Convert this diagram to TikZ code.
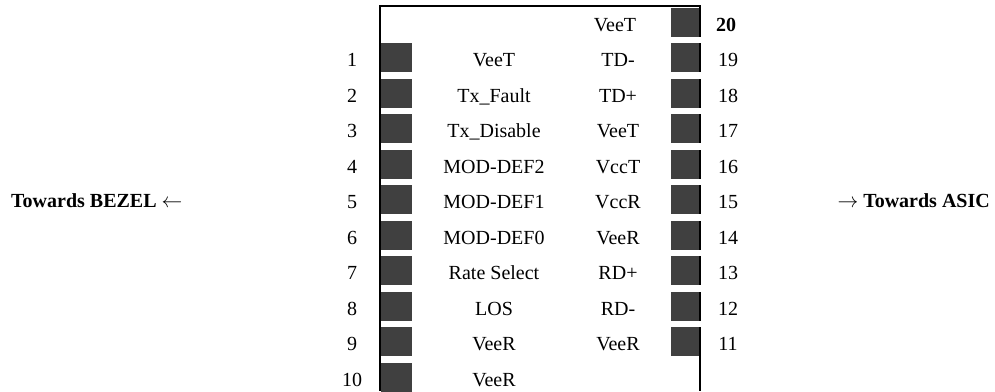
\documentclass[tikz,border=0pt]{standalone}
\usepackage{fontspec}
\setmainfont{Liberation Serif}
\begin{document}
\begin{tikzpicture}[x=1pt,y=-1pt,
  pad/.style={fill=padgray, draw=none, inner sep=0pt, minimum height=29pt},
  padL/.style={pad, minimum width=31pt},
  padR/.style={pad, minimum width=29pt},
  lbl/.style={anchor=base, inner sep=0pt, font=\fontsize{20}{24}\selectfont},
  frame/.style={line width=2pt, draw=black},
  notch/.style={fill=white, draw=none}]
\definecolor{padgray}{RGB}{64,64,64}
\useasboundingbox (0,0) rectangle (995,391);
% left pads, pins 1..10
\foreach \k in {1,...,10} {
  \node[padL] (pL\k) at (396.5, 22+35.5*\k) {};
}
% right pads, pins 20..11 (row 0..9)
\foreach \k/\p in {0/20,1/19,2/18,3/17,4/16,5/15,6/14,7/13,8/12,9/11} {
  \node[padR] (pR\p) at (685.5, 22+35.5*\k) {};
}
% frame
\draw[frame] (380,391) -- (380,6) -- (700,6) -- (700,391);
% white gaps between right pads crossing the frame line
\foreach \k in {0,...,8} {
  \fill[notch] (670, 36.5+35.5*\k) rectangle (702, 43+35.5*\k);
}
% left pin numbers and signal names
\foreach \k/\s in {1/VeeT,2/Tx\_Fault,3/Tx\_Disable,4/MOD-DEF2,5/MOD-DEF1,6/MOD-DEF0,7/Rate Select,8/LOS,9/VeeR,10/VeeR} {
  \node[lbl] (nL\k) at (352, 31+35.5*\k) {\k};
  \node[lbl] (sL\k) at (494, 31+35.5*\k) {\s};
}
% right pin numbers and signal names
\node[lbl, font=\fontsize{20}{24}\selectfont\bfseries] (nR20) at (726, 31) {20};
\node[lbl] (sR20) at (615, 31) {VeeT};
\foreach \k/\p/\s in {1/19/TD-,2/18/TD+,3/17/VeeT,4/16/VccT,5/15/VccR,6/14/VeeR,7/13/RD+,8/12/RD-,9/11/VeeR} {
  \node[lbl] (nR\p) at (728, 31+35.5*\k) {\p};
  \node[lbl] (sR\p) at (618, 31+35.5*\k) {\s};
}
% direction labels
\node[lbl, anchor=base west] (bezel) at (11, 207.5) {\textbf{Towards BEZEL} $\leftarrow$};
\node[lbl, anchor=base east] (asic) at (990, 207.5) {$\rightarrow$ \textbf{Towards ASIC}};
\end{tikzpicture}
\end{document}
